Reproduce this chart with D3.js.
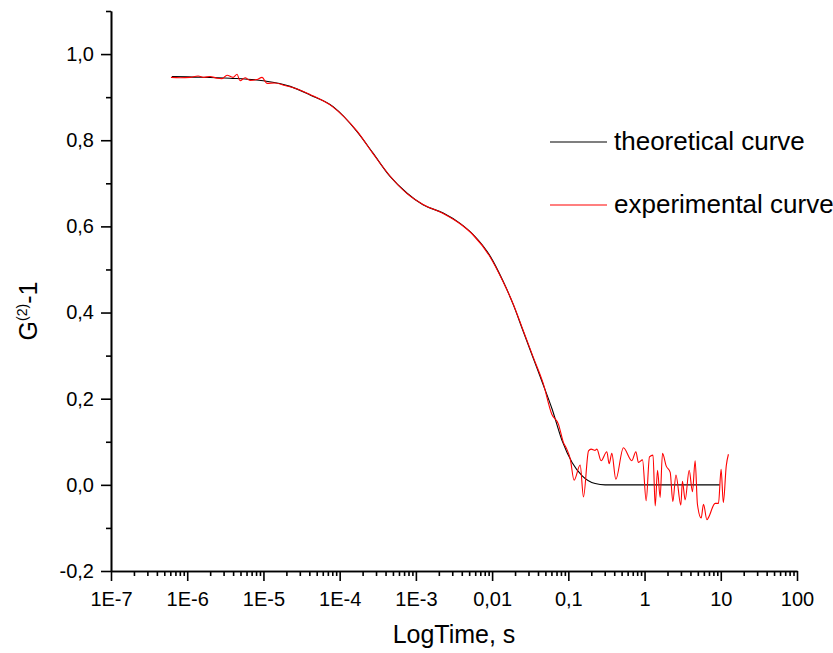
<!DOCTYPE html>
<html>
<head>
<meta charset="utf-8">
<script src="https://cdn.jsdelivr.net/npm/d3@7"></script>
<style>
  body { margin: 0; background: #fff; }
  .chart { width: 833px; height: 653px; }
  text { font-family: "Liberation Sans", Arial, sans-serif; fill: #000; }
  .axis path, .axis line { stroke: #000; stroke-width: 1.6; }
  .axis text { font-size: 20px; }
</style>
</head>
<body>
<div class="chart"></div>
<script>
// values
let theoryTime = [6.3e-7, 1.02e-6, 3.65e-6, 9.9e-6, 2.24e-5, 4.09e-5, 8.2e-5, 1.69e-4, 2.74e-4, 4.58e-4,
  7.67e-4, 1.24e-3, 2.28e-3, 3.80e-3, 5.64e-3, 9.42e-3, 1.39e-2, 1.89e-2, 2.55e-2, 3.45e-2,
  4.67e-2, 6.12e-2, 8.3e-2, 0.112, 0.152, 0.225, 0.304, 9.7];
let theoryValue = [0.948, 0.947, 0.944, 0.938, 0.925, 0.905, 0.878, 0.820, 0.770, 0.716,
  0.677, 0.650, 0.631, 0.607, 0.581, 0.531, 0.473, 0.419, 0.357, 0.295,
  0.233, 0.176, 0.102, 0.052, 0.021, 0.003, 0.0, 0.0];

let expTime = [6.12e-7, 8.06e-7, 1.09e-6, 1.39e-6, 1.66e-6, 1.99e-6, 2.46e-6, 2.86e-6, 3.33e-6, 3.99e-6,
  4.51e-6, 4.93e-6, 5.74e-6, 6.67e-6, 8.24e-6, 9.6e-6, 1.11e-5, 1.42e-5, 1.92e-5,
  2.24e-5, 4.09e-5, 8.2e-5, 1.69e-4, 2.74e-4, 4.58e-4, 7.67e-4, 1.24e-3, 2.28e-3, 3.80e-3,
  5.64e-3, 9.42e-3, 1.39e-2, 1.89e-2, 2.55e-2, 3.45e-2, 4.67e-2,
  0.0607, 0.0741, 0.0863, 0.0955, 0.106, 0.119, 0.143, 0.158, 0.184, 0.199,
  0.225, 0.237, 0.269, 0.320, 0.343, 0.372, 0.420, 0.528, 0.681, 0.769,
  0.832, 0.94, 1.05, 1.16, 1.29, 1.38, 1.48, 1.60, 1.72, 1.92,
  2.17, 2.35, 2.58, 2.99, 3.14, 3.41, 3.85, 4.25, 4.61, 4.94,
  5.53, 5.93, 6.58, 6.89, 8.43, 9.33, 10.1, 10.8, 11.8, 12.6];
let expValue = [0.946, 0.945, 0.946, 0.949, 0.946, 0.948, 0.944, 0.943, 0.951, 0.946,
  0.953, 0.938, 0.945, 0.939, 0.941, 0.946, 0.932, 0.933, 0.927,
  0.924, 0.906, 0.877, 0.821, 0.769, 0.717, 0.676, 0.651, 0.630, 0.606,
  0.580, 0.529, 0.472, 0.420, 0.359, 0.297, 0.236,
  0.164, 0.141, 0.098, 0.083, 0.060, 0.011, 0.046, -0.028, 0.079, 0.083,
  0.080, 0.083, 0.056, 0.077, 0.049, 0.073, 0.013, 0.086, 0.056, 0.077,
  0.052, 0.058, -0.037, 0.065, 0.069, -0.049, 0.034, -0.029, 0.073, 0.044,
  0.029, -0.039, 0.023, -0.047, 0.008, -0.035, 0.034, -0.016, 0.056, -0.045,
  -0.077, -0.045, -0.081, -0.076, -0.043, -0.043, 0.036, -0.041, 0.044, 0.071];

let xTickValues = [1e-7, 1e-6, 1e-5, 1e-4, 1e-3, 1e-2, 1e-1, 1, 10, 100];
let xTickLabels = ["1E-7", "1E-6", "1E-5", "1E-4", "1E-3", "0,01", "0,1", "1", "10", "100"];
let yTickValues = [-0.2, 0, 0.2, 0.4, 0.6, 0.8, 1.0];
let yTickLabels = ["-0,2", "0,0", "0,2", "0,4", "0,6", "0,8", "1,0"];
let yMinorValues = [-0.1, 0.1, 0.3, 0.5, 0.7, 0.9, 1.1];
let seriesNames = ["theoretical curve", "experimental curve"];
let seriesColors = ["#000000", "#ff0000"];

let margin, width, height, xScale, yScale, svg, plot, line;

init();

function init() {
  setDimensions();
  setScales();
  appendElements();
}

function setDimensions() {
  margin = { top: 11, right: 36, bottom: 82, left: 111 };
  width = 833 - margin.left - margin.right;
  height = 653 - margin.top - margin.bottom;
}

function setScales() {
  xScale = d3.scaleLog().domain([1e-7, 100]).range([0, width]);
  yScale = d3.scaleLinear().domain([-0.2, 1.1]).range([height, 0]);

  line = d3.line()
    .x(d => xScale(d.t))
    .y(d => yScale(d.v))
    .curve(d3.curveMonotoneX);
}

function appendElements() {
  svg = d3.select(".chart").append("svg")
    .attr("width", 833)
    .attr("height", 653);

  plot = svg.append("g")
    .attr("transform", `translate(${margin.left},${margin.top})`);

  // minor ticks: 2..9 in each decade
  let xMinor = [];
  for (let e = -7; e < 2; e++) {
    for (let m = 2; m <= 9; m++) xMinor.push(m * Math.pow(10, e));
  }

  plot.append("g").attr("class", "axis")
    .attr("transform", `translate(0,${height})`)
    .call(d3.axisBottom(xScale).tickValues(xMinor).tickSize(5).tickFormat("").tickSizeOuter(0));

  plot.append("g").attr("class", "axis")
    .attr("transform", `translate(0,${height})`)
    .call(d3.axisBottom(xScale).tickValues(xTickValues).tickSize(10).tickSizeOuter(0).tickPadding(11)
      .tickFormat((d, i) => xTickLabels[i]));

  plot.append("g").attr("class", "axis")
    .call(d3.axisLeft(yScale).tickValues(yMinorValues).tickSize(5).tickFormat("").tickSizeOuter(0));

  plot.append("g").attr("class", "axis")
    .call(d3.axisLeft(yScale).tickValues(yTickValues).tickSize(10).tickSizeOuter(0).tickPadding(7)
      .tickFormat((d, i) => yTickLabels[i]));

  let theory = theoryTime.map((t, i) => ({ t: t, v: theoryValue[i] }));
  let exp = expTime.map((t, i) => ({ t: t, v: expValue[i] }));

  plot.append("path")
    .attr("d", line(theory))
    .attr("fill", "none")
    .attr("stroke", seriesColors[0])
    .attr("stroke-width", 1.1);

  plot.append("path")
    .attr("d", line(exp))
    .attr("fill", "none")
    .attr("stroke", seriesColors[1])
    .attr("stroke-width", 1.1);

  // legend
  let legend = svg.selectAll(".legend")
    .data(seriesNames)
    .enter()
    .append("g")
    .attr("class", "legend")
    .attr("transform", (d, i) => `translate(550,${142 + i * 63})`);

  legend.append("line")
    .attr("x1", 0).attr("x2", 57)
    .attr("stroke", (d, i) => seriesColors[i])
    .attr("stroke-width", 1.2);

  legend.append("text")
    .attr("x", 64)
    .attr("y", 8)
    .style("font-size", "26px")
    .text(d => d);

  // axis titles
  svg.append("text")
    .attr("x", 454)
    .attr("y", 643)
    .attr("text-anchor", "middle")
    .style("font-size", "25px")
    .text("LogTime, s");

  let yTitle = svg.append("text")
    .attr("transform", "translate(37,311) rotate(-90)")
    .attr("text-anchor", "middle")
    .style("font-size", "25px");
  yTitle.append("tspan").text("G");
  yTitle.append("tspan").attr("dy", -10).style("font-size", "14px").text("(2)");
  yTitle.append("tspan").attr("dy", 10).text("-1");
}
</script>
</body>
</html>
